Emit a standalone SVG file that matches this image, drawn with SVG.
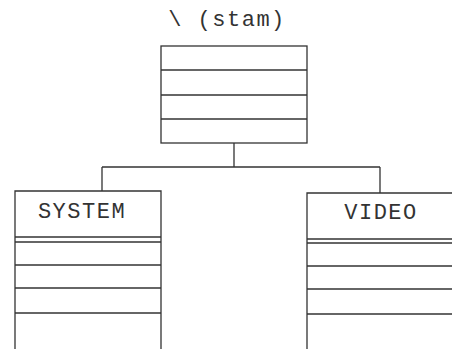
<svg xmlns="http://www.w3.org/2000/svg" width="452" height="349" viewBox="0 0 452 349">
<style>
.b{fill:none;stroke:#333;stroke-width:1.3}
.t{font-family:"Liberation Mono",monospace;font-size:22px;fill:#333;letter-spacing:1.5px;text-anchor:middle}
</style>
<rect width="452" height="349" fill="#fff"/>
<text class="t" x="227" y="26">\ (stam)</text>
<g id="stam">
<rect class="b" x="161" y="46" width="146" height="97"/>
<line class="b" x1="161" y1="70" x2="307" y2="70"/>
<line class="b" x1="161" y1="95" x2="307" y2="95"/>
<line class="b" x1="161" y1="119" x2="307" y2="119"/>
</g>
<g id="connectors">
<path class="b" d="M234,143 V167 M102,167 H380 M102,167 V191 M380,167 V193"/>
</g>
<g id="system">
<path class="b" d="M15,349 V191 H161 V349"/>
<line class="b" x1="15" y1="237" x2="161" y2="237"/>
<line class="b" x1="15" y1="242" x2="161" y2="242"/>
<line class="b" x1="15" y1="265" x2="161" y2="265"/>
<line class="b" x1="15" y1="288" x2="161" y2="288"/>
<line class="b" x1="15" y1="313" x2="161" y2="313"/>
<text class="t" x="82" y="218">SYSTEM</text>
</g>
<g id="video">
<path class="b" d="M307,349 V193 H452"/>
<line class="b" x1="307" y1="239" x2="452" y2="239"/>
<line class="b" x1="307" y1="243" x2="452" y2="243"/>
<line class="b" x1="307" y1="266" x2="452" y2="266"/>
<line class="b" x1="307" y1="289" x2="452" y2="289"/>
<line class="b" x1="307" y1="314" x2="452" y2="314"/>
<text class="t" x="381" y="219">VIDEO</text>
</g>
</svg>
